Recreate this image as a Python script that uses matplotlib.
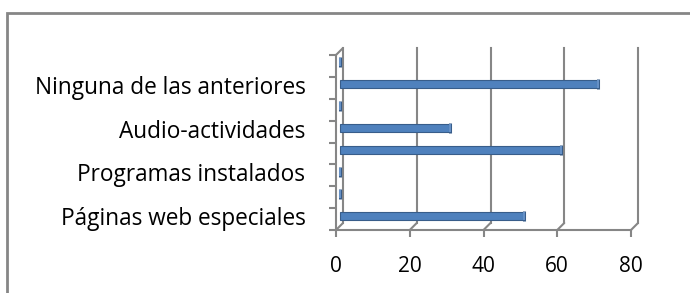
import numpy as np
import matplotlib
matplotlib.use("Agg")
import matplotlib.pyplot as plt
from matplotlib.patches import ConnectionPatch, Rectangle
from matplotlib.transforms import offset_copy, ScaledTranslation

plt.rcParams['font.family'] = ['Open Sans', 'DejaVu Sans']

# categories from bottom to top (unlabelled slots are skipped by the original chart)
categories = ["Páginas web especiales", "", "Programas instalados", "",
              "Audio-actividades", "", "Ninguna de las anteriores", ""]
values = [50, 0, 0, 60, 30, 0, 70, 0]
xticks = [0, 20, 40, 60, 80]

grey = "#868686"
blue = "#4F81BD"
dark = "#385D8A"
depth = 7  # px, fake 3d depth

fig = plt.figure(figsize=(6.9, 2.93), dpi=100)
ax = fig.add_axes([336/690, 1 - 230/293, 295/690, 175/293])
ax.set_xlim(0, 80)
ax.set_ylim(-0.5, 7.5)

back = offset_copy(ax.transData, fig=fig, x=depth, y=depth, units='dots')
mid = offset_copy(ax.transData, fig=fig, x=depth/2, y=depth/2, units='dots')

# back wall gridlines and floor joins
for v in xticks:
    ax.plot([v, v], [-0.5, 7.5], color=grey, lw=1.5, transform=back, clip_on=False)
    con = ConnectionPatch((v, -0.5), (v, -0.5), coordsA=ax.transData, coordsB=back,
                          color=grey, lw=1.5)
    fig.add_artist(con)
con = ConnectionPatch((0, 7.5), (0, 7.5), coordsA=ax.transData, coordsB=back,
                      color=grey, lw=1.5)
fig.add_artist(con)

# bars
y = np.arange(len(values))
ax.barh(y, values, height=0.37, color=blue, edgecolor=dark, lw=0.8,
        transform=mid, zorder=3)
ax.plot(values, y, ls='none', marker='|', ms=7, mew=2.2, color=dark,
        transform=mid, zorder=4, clip_on=False)
ax.plot(values, y, ls='none', marker='|', ms=5.5, mew=1.2, color="#6F9BD3",
        transform=mid, zorder=5, clip_on=False)

for s in ['top', 'right']:
    ax.spines[s].set_visible(False)
for s in ['left', 'bottom']:
    ax.spines[s].set_color(grey)
    ax.spines[s].set_linewidth(1.5)

ax.set_xticks(xticks)
ax.set_xticklabels([str(v) for v in xticks])
ax.set_yticks(np.arange(-0.5, 8, 1), minor=True)
ax.set_yticks(y)
ax.set_yticklabels(categories)
ax.tick_params(axis='y', which='major', length=0, pad=22, labelsize=16.3, labelcolor='black')
ax.tick_params(axis='y', which='minor', length=5, width=1.5, color=grey, direction='out')
ax.tick_params(axis='x', length=5, width=1.5, color=grey, pad=14, labelsize=15)
shift = ScaledTranslation(0, 3/100, fig.dpi_scale_trans)
for lbl in ax.get_yticklabels():
    lbl.set_transform(lbl.get_transform() + shift)

# outer chart border
fig.add_artist(Rectangle((7/690, -0.1), 1.2, 1 - 13/293 + 0.1, transform=fig.transFigure,
                         fill=False, ec=grey, lw=2))

fig.savefig("out.png", dpi=100)
